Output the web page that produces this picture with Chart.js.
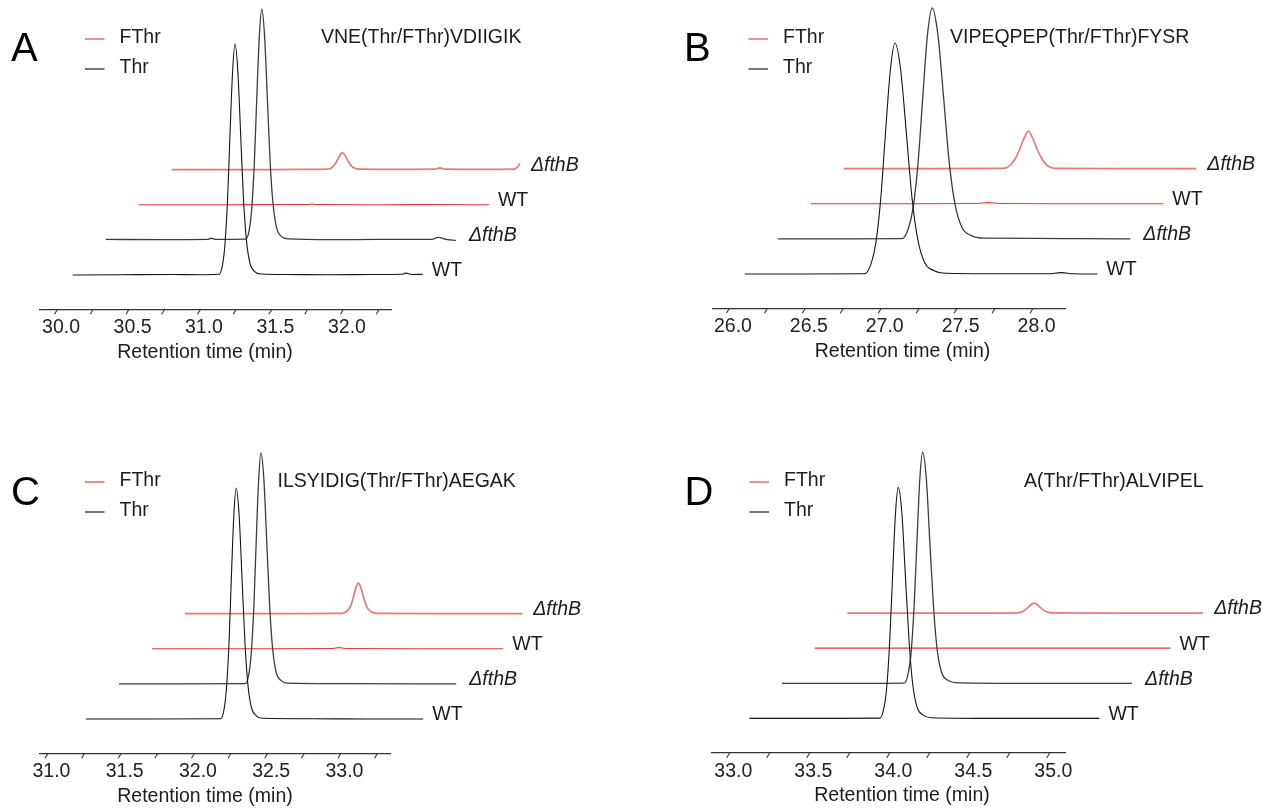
<!DOCTYPE html>
<html>
<head>
<meta charset="utf-8">
<title>Thr / FThr chromatograms</title>
<script src="https://cdn.jsdelivr.net/npm/chart.js@4.4.1/dist/chart.umd.min.js"></script>
<style>
  body { margin: 0; background: #fff; }
  #wrap { position: relative; width: 1271px; height: 810px; overflow: hidden; }
  #wrap canvas { position: absolute; }
</style>
</head>
<body>
<div id="wrap">
  <canvas id="cA" width="635" height="405" style="left:0px;top:0px"></canvas>
  <canvas id="cB" width="636" height="405" style="left:635px;top:0px"></canvas>
  <canvas id="cC" width="635" height="405" style="left:0px;top:405px"></canvas>
  <canvas id="cD" width="636" height="405" style="left:635px;top:405px"></canvas>
</div>
<script>
// Trace names, legend names and peptide titles
const seriesNames = ['WT', 'ΔfthB', 'WT', 'ΔfthB'];
const legendNames = ['FThr', 'Thr'];
const peptideA = 'VNE(Thr/FThr)VDIIGIK';
const peptideB = 'VIPEQPEP(Thr/FThr)FYSR';
const peptideC = 'ILSYIDIG(Thr/FThr)AEGAK';
const peptideD = 'A(Thr/FThr)ALVIPEL';

// Tick values of each x axis (min)
const ticksA = [30.0, 30.25, 30.5, 30.75, 31.0, 31.25, 31.5, 31.75, 32.0, 32.25];
const ticksB = [26.0, 26.25, 26.5, 26.75, 27.0, 27.25, 27.5, 27.75, 28.0];
const ticksC = [31.0, 31.25, 31.5, 31.75, 32.0, 32.25, 32.5, 32.75, 33.0, 33.25];
const ticksD = [33.0, 33.25, 33.5, 33.75, 34.0, 34.25, 34.5, 34.75, 35.0];

// Panel A: [retention time, relative intensity]
const thrWtA = [[30.11,0],[30.45,0.1],[30.8,0.2],[31.0,0.1],[31.133,0.3],[31.158,4.5],[31.175,13.5],[31.193,33],[31.21,61],[31.228,88],[31.245,100],[31.265,88],[31.285,60],[31.305,32],[31.325,15],[31.35,5],[31.38,1.6],[31.43,0.4],[31.6,0.2],[31.9,0.1],[32.2,0.2],[32.41,0.3],[32.44,0.8],[32.48,0.2],[32.559,0.3]];
const thrDeltaA = [[30.11,0.2],[30.5,0.1],[30.82,0.2],[30.85,0.7],[30.88,0.2],[31.09,0.3],[31.114,4.5],[31.131,13.5],[31.149,33],[31.166,61],[31.184,88],[31.201,100],[31.221,88],[31.241,60],[31.261,32],[31.281,15],[31.306,5],[31.336,1.6],[31.386,0.4],[31.7,0.1],[32.0,0.2],[32.39,0.2],[32.436,1.1],[32.49,0.2],[32.559,-0.2]];
const fthrWtA = [[30.11,0],[30.7,0],[31.1,0.1],[31.3,0.1],[31.322,0.4],[31.345,0.1],[31.8,0],[32.2,0.1],[32.559,0]];
const fthrDeltaA = [[30.11,0],[30.6,0],[31.0,0.1],[31.2,0.2],[31.22,0.5],[31.24,1.4],[31.26,3.2],[31.28,5.6],[31.303,7.4],[31.325,5.8],[31.345,3.4],[31.365,1.6],[31.39,0.6],[31.43,0.2],[31.7,0.1],[31.95,0.2],[31.986,0.8],[32.02,0.2],[32.3,0.1],[32.5,0.2],[32.528,1.1],[32.545,2.7]];

// Panel B
const thrWtB = [[26.105,0],[26.5,0],[26.894,0.1],[26.936,4.4],[26.968,13.5],[27.0,32.5],[27.031,60.7],[27.063,88],[27.094,100],[27.131,88.5],[27.169,61],[27.206,33],[27.244,15],[27.289,5],[27.349,1.5],[27.434,0.3],[27.7,0.1],[28.1,0.1],[28.19,0.6],[28.27,0.1],[28.427,0]];
const thrDeltaB = [[26.105,0],[26.6,0],[26.922,0.1],[26.964,4.4],[26.996,13.5],[27.028,32.5],[27.059,60.7],[27.09,88],[27.122,100],[27.159,88.5],[27.197,61],[27.234,33],[27.272,15],[27.317,5],[27.377,1.5],[27.462,0.3],[27.8,0.2],[28.1,0.1],[28.427,0]];
const fthrWtB = [[26.105,0],[26.8,0],[27.2,0.1],[27.274,0.5],[27.35,0.1],[27.8,0],[28.427,0]];
const fthrDeltaB = [[26.105,0],[26.7,0],[27.15,0.1],[27.18,0.5],[27.206,1.8],[27.234,4.3],[27.263,8.3],[27.291,13.0],[27.32,16.3],[27.349,13.2],[27.377,8.6],[27.406,4.6],[27.434,2.0],[27.465,0.6],[27.5,0.1],[27.9,0],[28.427,0]];

// Panel C
const thrWtC = [[31.263,0],[31.7,0],[32.182,0.1],[32.206,4.4],[32.222,13.5],[32.239,32.5],[32.255,60.7],[32.272,88],[32.288,100],[32.308,88.5],[32.328,61],[32.348,33],[32.368,15],[32.392,5],[32.424,1.5],[32.468,0.3],[32.8,0.1],[33.2,0],[33.565,0]];
const thrDeltaC = [[31.263,0],[31.7,0],[32.126,0.1],[32.15,4.4],[32.166,13.5],[32.183,32.5],[32.199,60.7],[32.216,88],[32.232,100],[32.252,88.5],[32.272,61],[32.292,33],[32.312,15],[32.336,5],[32.368,1.5],[32.412,0.3],[32.8,0.1],[33.565,0]];
const fthrWtC = [[31.263,0],[31.9,0],[32.5,0.1],[32.54,0.5],[32.58,0.1],[33.2,0],[33.661,0]];
const fthrDeltaC = [[31.263,0],[31.9,0],[32.33,0.1],[32.36,0.7],[32.384,2.2],[32.4,4.3],[32.415,7.9],[32.43,11.4],[32.446,13.2],[32.462,11.5],[32.478,8.1],[32.494,4.6],[32.51,2.3],[32.535,0.8],[32.57,0.1],[33.0,0],[33.565,0]];

// Panel D
const thrWtD = [[33.125,0],[33.6,0],[33.941,0.1],[33.966,4.4],[33.984,13.5],[34.002,32.5],[34.02,60.7],[34.038,88],[34.056,100],[34.079,88.5],[34.101,61],[34.124,33],[34.146,15],[34.173,5],[34.209,1.5],[34.26,0.3],[34.7,0],[35.313,0]];
const thrDeltaD = [[33.125,0],[33.6,0],[33.889,0.1],[33.914,4.4],[33.932,13.5],[33.95,32.5],[33.968,60.7],[33.986,88],[34.004,100],[34.027,88.5],[34.049,61],[34.072,33],[34.094,15],[34.121,5],[34.157,1.5],[34.208,0.3],[34.6,0],[35.313,0]];
const fthrWtD = [[33.125,0],[34.0,0],[34.6,0],[35.348,0]];
const fthrDeltaD = [[33.125,0],[34.0,0],[34.19,0.1],[34.215,0.6],[34.238,1.5],[34.26,2.8],[34.276,3.8],[34.292,4.3],[34.308,3.8],[34.324,2.8],[34.346,1.5],[34.37,0.6],[34.4,0.1],[34.8,0],[35.348,0]];

// Waterfall layout: vertical step between traces and y range (intensity units)
const Y_SHIFT = 15.2;
const Y_MIN = -14.85;
const Y_MAX = 118;
const PLOT_H = 306.9;
const FONT = '"Liberation Sans", Arial, Helvetica, sans-serif';
const TEXT_COLOR = '#1c1c1c';
const AXIS_COLOR = '#333';

// Line style of each trace, bottom to top
const traceStyles = [
    { color: '#151515', width: 1.1, gap: 9 },
    { color: '#3d3d3d', width: 1.3, gap: 13 },
    { color: '#ec3535', width: 1.1, gap: 9 },
    { color: '#f07676', width: 1.7, gap: 11 }
];
const legendColors = ['#f05c5c', '#3a3a3a'];

// Position of every panel on the page
const panels = [
    { canvas: 'cA', left: 0, top: 0, w: 635, h: 405, axisLeft: 39.3, axisRight: 391.7, axisY: 309.3,
      xmin: 29.876, xmax: 32.341, xShift: 0.231, ticks: ticksA, series: [thrWtA, thrDeltaA, fthrWtA, fthrDeltaA],
      letter: 'A', letterX: 11, letterY: 60.5, legendX: 85, legendY: 39, title: peptideA, titleX: 321, titleY: 38, axisTitleX: 205 },
    { canvas: 'cB', left: 635, top: 0, w: 636, h: 405, axisLeft: 712.7, axisRight: 1065, axisY: 308.3,
      xmin: 25.893, xmax: 28.214, xShift: 0.2174, ticks: ticksB, series: [thrWtB, thrDeltaB, fthrWtB, fthrDeltaB],
      letter: 'B', letterX: 684, letterY: 60.5, legendX: 748.5, legendY: 39, title: peptideB, titleX: 950, titleY: 38, axisTitleX: 902.5 },
    { canvas: 'cC', left: 0, top: 405, w: 635, h: 405, axisLeft: 40, axisRight: 390.7, axisY: 753.3,
      xmin: 30.949, xmax: 33.343, xShift: 0.2253, ticks: ticksC, series: [thrWtC, thrDeltaC, fthrWtC, fthrDeltaC],
      letter: 'C', letterX: 11, letterY: 505, legendX: 85, legendY: 482, title: peptideC, titleX: 277.5, titleY: 481.5, axisTitleX: 205 },
    { canvas: 'cD', left: 635, top: 405, w: 636, h: 405, axisLeft: 712, axisRight: 1065, axisY: 752.7,
      xmin: 32.892, xmax: 35.098, xShift: 0.2044, ticks: ticksD, series: [thrWtD, thrDeltaD, fthrWtD, fthrDeltaD],
      letter: 'D', letterX: 684.5, letterY: 505, legendX: 749.5, legendY: 482, title: peptideD, titleX: 1024, titleY: 481.5, axisTitleX: 902 }
];

// Shift each trace right and up to build the waterfall
function buildDatasets(panel) {
    return panel.series.map((pts, k) => ({
        label: seriesNames[k],
        data: pts.map(p => ({ x: p[0] + k * panel.xShift, y: p[1] + k * Y_SHIFT })),
        borderColor: traceStyles[k].color,
        borderWidth: traceStyles[k].width,
        pointRadius: 0,
        fill: false,
        cubicInterpolationMode: 'monotone',
        clip: false
    }));
}

// Draws slanted ticks, labels, legend, panel letter and peptide name
function decorPlugin(panel) {
    return {
        id: 'decor' + panel.letter,
        afterDraw(chart) {
            const ctx = chart.ctx;
            const xs = chart.scales.x;
            const ys = chart.scales.y;
            const ox = panel.left;
            const oy = panel.top;
            ctx.save();

            // tick marks, slanted like the original
            ctx.strokeStyle = AXIS_COLOR;
            ctx.lineWidth = 1.1;
            xs.ticks.forEach(t => {
                const px = xs.getPixelForValue(t.value);
                ctx.beginPath();
                ctx.moveTo(px + 0.5, xs.top);
                ctx.lineTo(px - 2.5, xs.top + 5);
                ctx.stroke();
            });

            ctx.fillStyle = TEXT_COLOR;

            // axis title
            ctx.font = '19.5px ' + FONT;
            ctx.textAlign = 'center';
            ctx.textBaseline = 'alphabetic';
            ctx.fillText('Retention time (min)', panel.axisTitleX - ox, xs.top + 48.5);

            // trace labels at the right end of each trace
            ctx.textAlign = 'left';
            ctx.textBaseline = 'middle';
            chart.data.datasets.forEach((ds, k) => {
                const last = ds.data[ds.data.length - 1];
                const px = xs.getPixelForValue(last.x) + traceStyles[k].gap;
                const py = ys.getPixelForValue(k * Y_SHIFT) - 4;
                ctx.font = (seriesNames[k] === 'WT' ? '' : 'italic ') + '19.5px ' + FONT;
                ctx.fillText(seriesNames[k], px, py);
            });

            // legend
            legendNames.forEach((name, i) => {
                const y = panel.legendY + i * 30 - oy;
                ctx.strokeStyle = legendColors[i];
                ctx.lineWidth = 1.4;
                ctx.beginPath();
                ctx.moveTo(panel.legendX - ox, y);
                ctx.lineTo(panel.legendX - ox + 19.5, y);
                ctx.stroke();
                ctx.font = '19.5px ' + FONT;
                ctx.fillText(name, panel.legendX - ox + 34.5, y - 1);
            });

            // peptide sequence
            ctx.fillText(panel.title, panel.titleX - ox, panel.titleY - oy);

            // panel letter
            ctx.font = '40px ' + FONT;
            ctx.textBaseline = 'alphabetic';
            ctx.fillStyle = '#000';
            ctx.fillText(panel.letter, panel.letterX - ox, panel.letterY - oy);

            ctx.restore();
        }
    };
}

// Creates the chart of one panel
function renderPanel(panel) {
    const ctx = document.getElementById(panel.canvas).getContext('2d');
    const axisH = panel.top + panel.h - panel.axisY;
    new Chart(ctx, {
        type: 'line',
        data: { datasets: buildDatasets(panel) },
        options: {
            responsive: false,
            animation: false,
            events: [],
            layout: {
                padding: {
                    left: panel.axisLeft - panel.left,
                    right: panel.left + panel.w - panel.axisRight,
                    top: panel.axisY - panel.top - PLOT_H,
                    bottom: 0
                }
            },
            scales: {
                x: {
                    type: 'linear',
                    position: 'bottom',
                    bounds: 'data',
                    afterDataLimits: s => { s.min = panel.xmin; s.max = panel.xmax; },
                    afterBuildTicks: s => { s.ticks = panel.ticks.map(v => ({ value: v })); },
                    afterFit: s => { s.height = axisH; },
                    grid: { display: false, drawTicks: false },
                    border: { display: true, color: AXIS_COLOR, width: 1.3 },
                    ticks: {
                        autoSkip: false,
                        maxRotation: 0,
                        padding: 7,
                        labelOffset: 4,
                        color: '#222',
                        font: { family: FONT, size: 19.5 },
                        callback: function(value) {
                            return Math.abs(value * 2 - Math.round(value * 2)) < 1e-6 ? value.toFixed(1) : '';
                        }
                    }
                },
                y: {
                    display: false,
                    min: Y_MIN,
                    max: Y_MAX
                }
            },
            plugins: {
                legend: { display: false },
                tooltip: { enabled: false }
            }
        },
        plugins: [decorPlugin(panel)]
    });
}

panels.forEach(renderPanel);
</script>
</body>
</html>
